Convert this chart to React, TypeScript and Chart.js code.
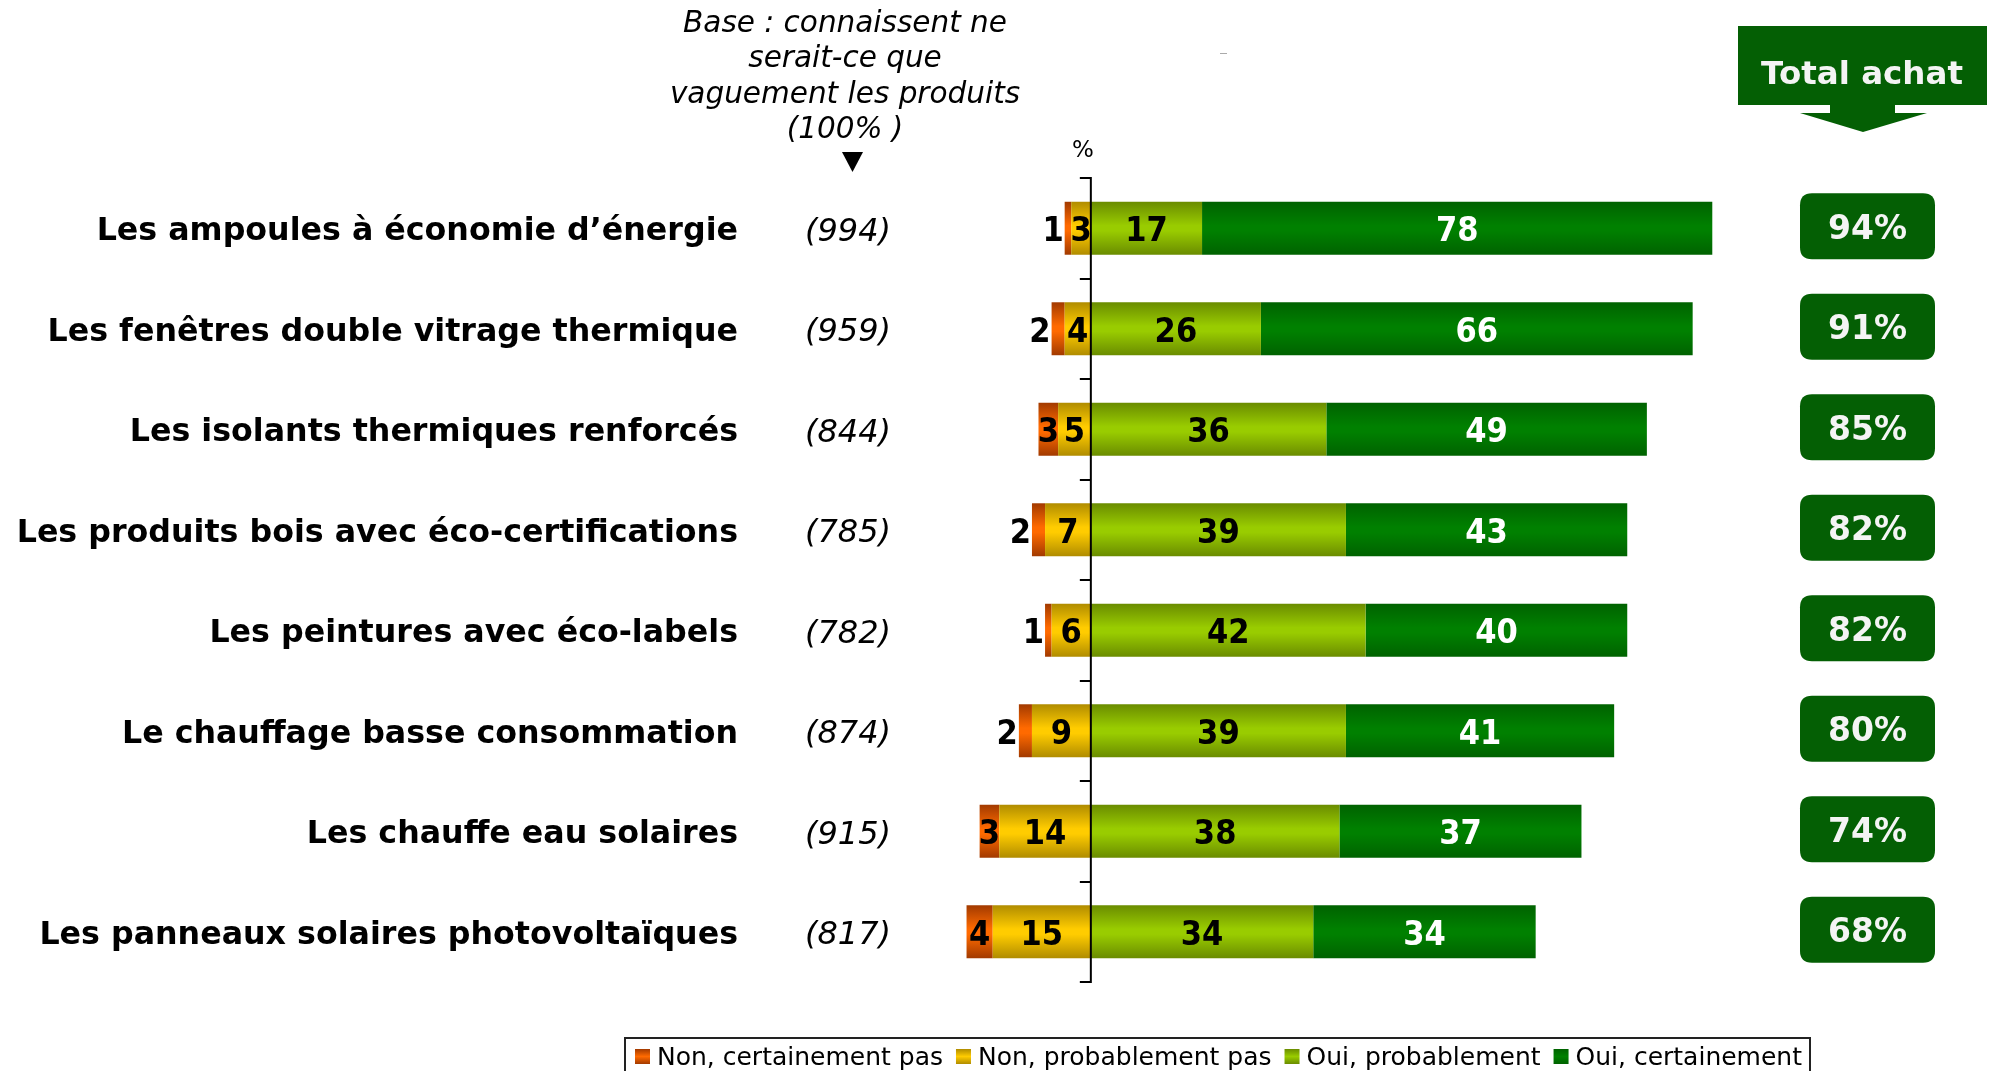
import React, { useEffect, useRef } from "react";
import { Chart, registerables } from "chart.js";
Chart.register(...registerables);

const categories = [
  "Les ampoules à économie d’énergie",
  "Les fenêtres double vitrage thermique",
  "Les isolants thermiques renforcés",
  "Les produits bois avec éco-certifications",
  "Les peintures avec éco-labels",
  "Le chauffage basse consommation",
  "Les chauffe eau solaires",
  "Les panneaux solaires photovoltaïques",
];
const bases = ["(994)", "(959)", "(844)", "(785)", "(782)", "(874)", "(915)", "(817)"];
const nonCertainement = [1, 2, 3, 2, 1, 2, 3, 4];
const nonProbablement = [3, 4, 5, 7, 6, 9, 14, 15];
const ouiProbablement = [17, 26, 36, 39, 42, 39, 38, 34];
const ouiCertainement = [78, 66, 49, 43, 40, 41, 37, 34];
const totalAchat = ["94%", "91%", "85%", "82%", "82%", "80%", "74%", "68%"];
const seriesNames = ["Non, certainement pas", "Non, probablement pas", "Oui, probablement", "Oui, certainement"];
const headerLines = ["Base : connaissent ne", "serait-ce que", "vaguement les produits", "(100% )"];
const totalTitle = "Total achat";

const BAR_PCT = 0.527;
const SANS = "'DejaVu Sans', Verdana, sans-serif";
const COND = "'DejaVu Sans Condensed', 'DejaVu Sans', sans-serif";
const BOX_GREEN = "#045F04";

const palettes: Record<string, [string, string]> = {
  orange: ["#A23A00", "#FF6A00"],
  yellow: ["#B08C00", "#FFCC00"],
  lime: ["#6A8C00", "#99CC00"],
  green: ["#006200", "#008000"],
};

function grad(edge: string, mid: string) {
  return (ctx: any) => {
    const chart = ctx.chart;
    const y = chart.scales && chart.scales.y;
    if (!y || ctx.dataIndex === undefined || !isFinite(y.top)) return mid;
    const c = y.getPixelForValue(ctx.dataIndex);
    const h = ((y.bottom - y.top) / categories.length) * BAR_PCT / 2;
    const g = chart.ctx.createLinearGradient(0, c - h, 0, c + h);
    g.addColorStop(0, edge);
    g.addColorStop(0.45, mid);
    g.addColorStop(0.55, mid);
    g.addColorStop(1, edge);
    return g;
  };
}

function roundRect(ctx: CanvasRenderingContext2D, x: number, y: number, w: number, h: number, r: number) {
  ctx.beginPath();
  ctx.moveTo(x + r, y);
  ctx.lineTo(x + w - r, y);
  ctx.quadraticCurveTo(x + w, y, x + w, y + r);
  ctx.lineTo(x + w, y + h - r);
  ctx.quadraticCurveTo(x + w, y + h, x + w - r, y + h);
  ctx.lineTo(x + r, y + h);
  ctx.quadraticCurveTo(x, y + h, x, y + h - r);
  ctx.lineTo(x, y + r);
  ctx.quadraticCurveTo(x, y, x + r, y);
  ctx.closePath();
}

const decorPlugin = {
  id: "decor",
  afterDatasetsDraw(chart: any) {
    const ctx: CanvasRenderingContext2D = chart.ctx;
    chart.data.datasets.forEach((ds: any, di: number) => {
      const meta = chart.getDatasetMeta(di);
      meta.data.forEach((el: any, i: number) => {
        const v = Math.abs(ds.data[i]);
        const txt = String(v);
        ctx.save();
        ctx.font = `bold 34px ${COND}`;
        ctx.textBaseline = "middle";
        ctx.fillStyle = ds.labelColor;
        const w = ctx.measureText(txt).width;
        const left = Math.min(el.x, el.base);
        const right = Math.max(el.x, el.base);
        if (right - left < w * 0.8) {
          ctx.textAlign = "right";
          ctx.fillText(txt, left - 1, el.y + 4);
        } else {
          ctx.textAlign = "center";
          ctx.fillText(txt, (left + right) / 2, el.y + 4);
        }
        ctx.restore();
      });
    });
  },
  afterDraw(chart: any) {
    const ctx: CanvasRenderingContext2D = chart.ctx;
    const xs = chart.scales.x;
    const ys = chart.scales.y;
    const x0 = xs.getPixelForValue(0);
    ctx.save();
    // axis line and ticks
    ctx.strokeStyle = "#000";
    ctx.lineWidth = 2;
    ctx.beginPath();
    ctx.moveTo(x0, ys.top);
    ctx.lineTo(x0, ys.bottom);
    for (let i = 0; i <= categories.length; i++) {
      const yy = Math.round(ys.getPixelForValue(i - 0.5));
      ctx.moveTo(x0 - 11, yy);
      ctx.lineTo(x0 + 1, yy);
    }
    ctx.stroke();

    // row labels, bases, totals
    categories.forEach((c, i) => {
      const yc = ys.getPixelForValue(i);
      ctx.fillStyle = "#000";
      ctx.textBaseline = "middle";
      ctx.font = `bold 31.7px ${SANS}`;
      ctx.textAlign = "right";
      ctx.fillText(c, 738, yc + 4);
      ctx.font = `italic 32px ${SANS}`;
      ctx.textAlign = "center";
      ctx.fillText(bases[i], 848, yc + 4);
      // total box
      const by = yc - 2 - 33;
      ctx.fillStyle = BOX_GREEN;
      roundRect(ctx, 1800, by, 135, 66, 12);
      ctx.fill();
      ctx.fillStyle = "#F4F4F4";
      ctx.font = `bold 33px ${SANS}`;
      ctx.fillText(totalAchat[i], 1867.5, by + 37);
    });

    // header
    ctx.fillStyle = "#000";
    ctx.font = `italic 29.5px ${SANS}`;
    ctx.textAlign = "center";
    ctx.textBaseline = "middle";
    headerLines.forEach((l, i) => ctx.fillText(l, 845, 24.5 + i * 35.3));
    ctx.beginPath();
    ctx.moveTo(842, 152);
    ctx.lineTo(863, 152);
    ctx.lineTo(852.5, 172);
    ctx.closePath();
    ctx.fill();
    ctx.font = `23px ${SANS}`;
    ctx.fillText("%", 1083, 151);
    ctx.strokeStyle = "#AAA";
    ctx.lineWidth = 1;
    ctx.beginPath();
    ctx.moveTo(1220, 53.5);
    ctx.lineTo(1227, 53.5);
    ctx.stroke();

    // Total achat box
    ctx.fillStyle = BOX_GREEN;
    ctx.fillRect(1738, 26, 249, 79);
    ctx.fillRect(1830, 104, 65, 9);
    ctx.beginPath();
    ctx.moveTo(1800, 113);
    ctx.lineTo(1927, 113);
    ctx.lineTo(1863, 132);
    ctx.closePath();
    ctx.fill();
    ctx.fillStyle = "#F4F4F4";
    ctx.font = `bold 32.5px ${SANS}`;
    ctx.fillText(totalTitle, 1862, 76);

    // legend
    ctx.strokeStyle = "#222";
    ctx.lineWidth = 2;
    ctx.strokeRect(625, 1038, 1185, 60);
    const pals = [palettes.orange, palettes.yellow, palettes.lime, palettes.green];
    ctx.font = `25px ${SANS}`;
    ctx.textAlign = "left";
    let lx = 635;
    seriesNames.forEach((n, i) => {
      const g = ctx.createLinearGradient(0, 1049, 0, 1064);
      g.addColorStop(0, pals[i][0]);
      g.addColorStop(0.5, pals[i][1]);
      g.addColorStop(1, pals[i][0]);
      ctx.fillStyle = g;
      ctx.fillRect(lx, 1049, 15, 15);
      ctx.fillStyle = "#000";
      ctx.fillText(n, lx + 22, 1058);
      lx += 22 + ctx.measureText(n).width + 13;
    });
    ctx.restore();
  },
};

export default function App() {
  const ref = useRef<HTMLCanvasElement>(null);
  useEffect(() => {
    document.body.style.margin = "0";
    document.body.style.overflow = "hidden";
    const chart = new Chart(ref.current as HTMLCanvasElement, {
      type: "bar",
      data: {
        labels: categories,
        datasets: [
          {
            label: seriesNames[1],
            data: nonProbablement.map((v) => -v),
            backgroundColor: grad(palettes.yellow[0], palettes.yellow[1]),
            labelColor: "#000",
          } as any,
          {
            label: seriesNames[0],
            data: nonCertainement.map((v) => -v),
            backgroundColor: grad(palettes.orange[0], palettes.orange[1]),
            labelColor: "#000",
          } as any,
          {
            label: seriesNames[2],
            data: ouiProbablement,
            backgroundColor: grad(palettes.lime[0], palettes.lime[1]),
            labelColor: "#000",
          } as any,
          {
            label: seriesNames[3],
            data: ouiCertainement,
            backgroundColor: grad(palettes.green[0], palettes.green[1]),
            labelColor: "#FFF",
          } as any,
        ],
      },
      options: {
        indexAxis: "y",
        responsive: false,
        animation: false,
        devicePixelRatio: 1,
        layout: { padding: { left: 960, right: 248, top: 178, bottom: 89 } },
        datasets: { bar: { barPercentage: BAR_PCT, categoryPercentage: 1, borderWidth: 0 } },
        scales: {
          x: { type: "linear", stacked: true, min: -20, max: 100, display: false },
          y: { type: "category", stacked: true, display: false, offset: true },
        },
        plugins: { legend: { display: false }, tooltip: { enabled: false } },
      },
      plugins: [decorPlugin],
    });
    return () => chart.destroy();
  }, []);
  return (
    <div style={{ position: "absolute", left: 0, top: 0, width: 1993, height: 1071, background: "#fff" }}>
      <canvas ref={ref} width={1993} height={1071} style={{ display: "block", width: 1993, height: 1071 }} />
    </div>
  );
}
